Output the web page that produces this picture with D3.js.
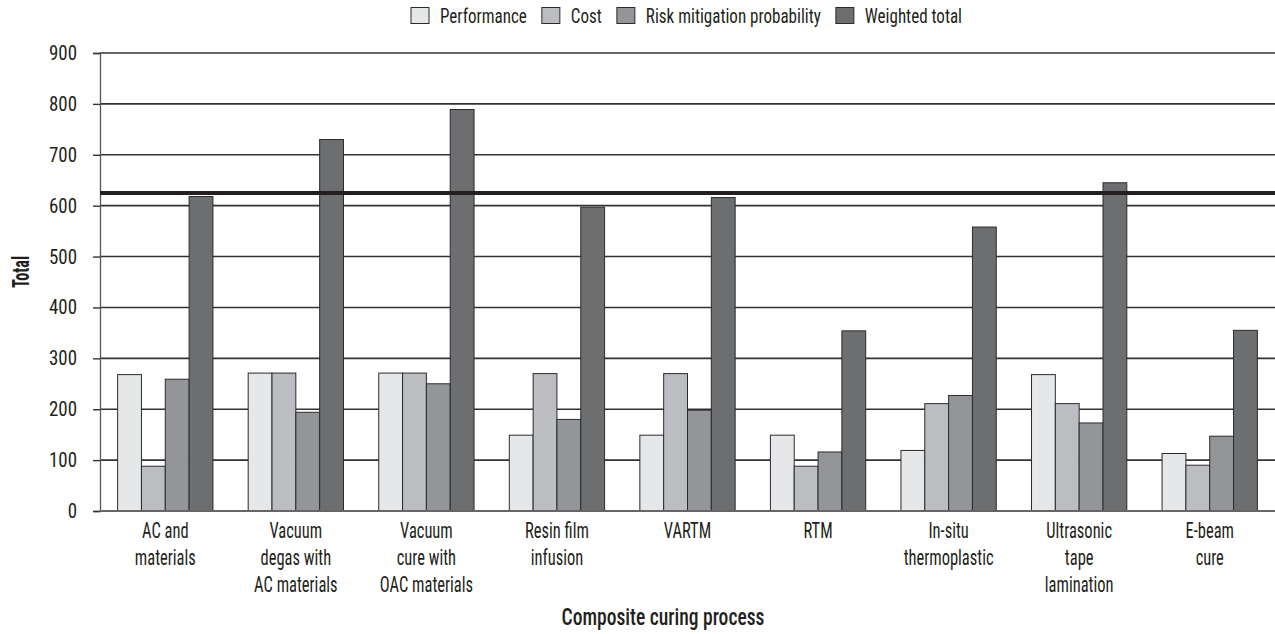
<!DOCTYPE html>
<html>
<head>
<meta charset="utf-8">
<script src="https://cdn.jsdelivr.net/npm/d3@7"></script>
<style>
  html, body { margin: 0; padding: 0; background: #fff; }
  svg { display: block; }
  text { font-family: "Roboto", "Open Sans", sans-serif; font-stretch: 75%; fill: #231f20; }
</style>
</head>
<body>
<svg id="chart" width="1275" height="634"></svg>
<script>
// Categories (multi-line labels) and series
const categories = [
  ["AC and", "materials"],
  ["Vacuum", "degas with", "AC materials"],
  ["Vacuum", "cure with", "OAC materials"],
  ["Resin film", "infusion"],
  ["VARTM"],
  ["RTM"],
  ["In-situ", "thermoplastic"],
  ["Ultrasonic", "tape", "lamination"],
  ["E-beam", "cure"]
];
const seriesNames = ["Performance", "Cost", "Risk mitigation probability", "Weighted total"];
const performance = [268, 271, 271, 149, 149, 149, 119, 268, 113];
const cost        = [88, 271, 271, 270, 270, 88, 211, 211, 90];
const risk        = [259, 194, 250, 180, 198, 116, 227, 173, 147];
const weighted    = [618, 730, 789, 597, 616, 354, 558, 645, 355];
const threshold   = 625;
const yTicks      = [0, 100, 200, 300, 400, 500, 600, 700, 800, 900];
const fills       = ["#e6e7e8", "#bcbdc0", "#939598", "#6d6e70"];

const series = [performance, cost, risk, weighted];
const catKeys = categories.map(c => c.join(" "));

const svg = d3.select("#chart");
const plotLeft = 100, plotRight = 1275, plotTop = 53, plotBottom = 511;

// Narrow-type helper: measure a string, then squeeze horizontally
function measure(str, size, weight) {
  const t = svg.append("text").attr("font-size", size).attr("font-weight", weight).text(str);
  const w = t.node().getComputedTextLength();
  t.remove();
  return w;
}
function label(parent, x, y, str, size, weight, sx, anchor) {
  return parent.append("text")
    .attr("transform", `translate(${x},${y}) scale(${sx},1)`)
    .attr("text-anchor", anchor || "start")
    .attr("font-size", size).attr("font-weight", weight).text(str);
}
const catSize = 22, legSize = 19.6, tickSize = 19.5, titleSize = 24, yTitleSize = 24;
const catScale = 90 / measure("thermoplastic", catSize, 400);
const legScale = 175 / measure("Risk mitigation probability", legSize, 400);
const titleScale = 203 / measure("Composite curing process", titleSize, 500);
const yTitleScale = 32 / measure("Total", yTitleSize, 700);
const tickScale = 28 / measure("900", tickSize, 400);

const x0 = d3.scaleBand().domain(catKeys).range([plotLeft, plotRight])
  .paddingInner(0.27).paddingOuter(0.135);
const x1 = d3.scaleBand().domain(d3.range(series.length)).range([0, x0.bandwidth()]);
const y = d3.scaleLinear().domain([0, 900]).range([plotBottom, plotTop]);

// Horizontal gridlines
svg.append("g").selectAll("line").data(yTicks.filter(t => t > 0)).join("line")
  .attr("x1", plotLeft).attr("x2", plotRight)
  .attr("y1", d => y(d)).attr("y2", d => y(d))
  .attr("stroke", "#333").attr("stroke-width", 1.6);

// Y axis (ticks via d3.axisLeft, labels squeezed to the narrow face)
const yAxis = svg.append("g").attr("transform", `translate(${plotLeft},0)`)
  .call(d3.axisLeft(y).tickValues(yTicks).tickSize(7).tickFormat(""));
yAxis.select(".domain").attr("stroke", "#555").attr("stroke-width", 1.3);
yAxis.selectAll(".tick line").attr("stroke", "#333").attr("stroke-width", 1.4);
const yLab = svg.append("g");
yTicks.forEach(t => label(yLab, plotLeft - 23, y(t) + 7, String(t), tickSize, 400, tickScale, "end"));

// Bars
const groups = svg.append("g").selectAll("g").data(catKeys).join("g")
  .attr("transform", d => `translate(${x0(d)},0)`);
groups.selectAll("rect")
  .data((d, i) => series.map((s, k) => ({ k, v: s[i] })))
  .join("rect")
  .attr("x", d => x1(d.k))
  .attr("y", d => y(d.v))
  .attr("width", x1.bandwidth())
  .attr("height", d => y(0) - y(d.v))
  .attr("fill", d => fills[d.k])
  .attr("stroke", "#2b2b2b")
  .attr("stroke-width", 1);

// Baseline
svg.append("line").attr("x1", plotLeft).attr("x2", plotRight)
  .attr("y1", y(0)).attr("y2", y(0))
  .attr("stroke", "#666").attr("stroke-width", 2.2);

// Threshold line
svg.append("line").attr("x1", plotLeft).attr("x2", plotRight)
  .attr("y1", y(threshold)).attr("y2", y(threshold))
  .attr("stroke", "#231f20").attr("stroke-width", 4);

// X category labels
const xl = svg.append("g");
categories.forEach((lines, i) => {
  const cx = x0(catKeys[i]) + x0.bandwidth() / 2;
  lines.forEach((ln, j) => label(xl, cx, 538 + j * 27, ln, catSize, 400, catScale, "middle"));
});

// Axis titles
label(svg, 663, 625, "Composite curing process", titleSize, 500, titleScale, "middle");
svg.append("text")
  .attr("transform", `translate(29,272) rotate(-90) scale(${yTitleScale},1)`)
  .attr("text-anchor", "middle").attr("font-size", yTitleSize).attr("font-weight", 700).text("Total");

// Legend
const leg = svg.append("g");
let lx = 411;
seriesNames.forEach((name, k) => {
  leg.append("rect").attr("x", lx).attr("y", 7.5).attr("width", 18).attr("height", 16)
    .attr("fill", fills[k]).attr("stroke", "#2b2b2b").attr("stroke-width", 1);
  lx += 18 + 11;
  const w = measure(name, legSize, 400) * legScale;
  label(leg, lx, 23, name, legSize, 400, legScale, "start");
  lx += w + 15;
});
</script>
</body>
</html>
